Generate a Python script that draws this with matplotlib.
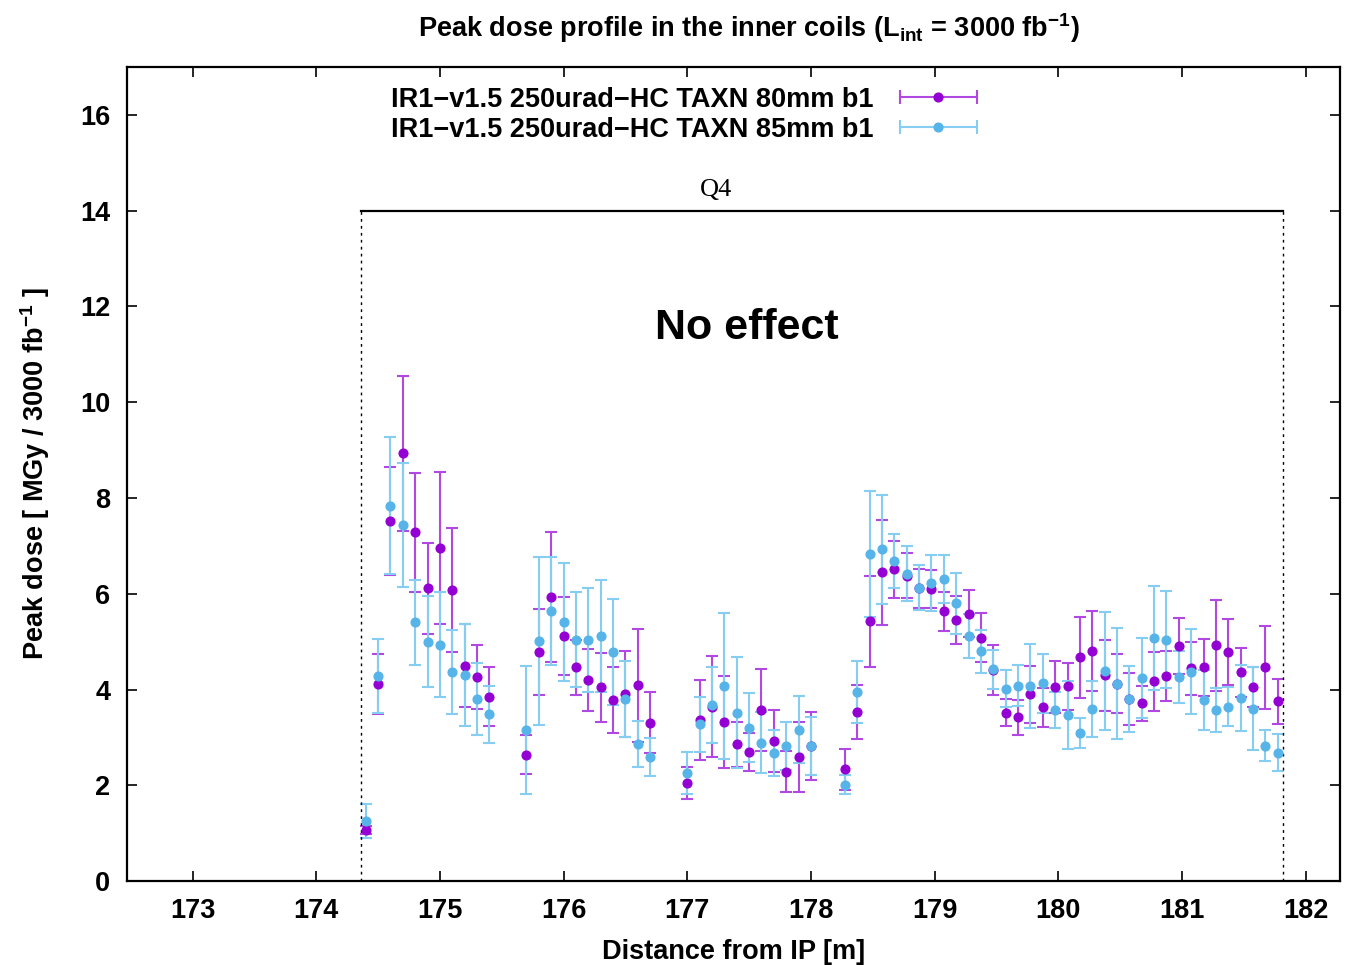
import numpy as np
import matplotlib
matplotlib.use('Agg')
import matplotlib.pyplot as plt
from matplotlib.lines import Line2D
from matplotlib.legend_handler import HandlerLine2D

plt.rcParams['font.family'] = ['Liberation Sans', 'DejaVu Sans']
plt.rcParams['font.weight'] = 'bold'
plt.rcParams['mathtext.fontset'] = 'custom'
plt.rcParams['mathtext.bf'] = 'Liberation Sans:bold'
plt.rcParams['mathtext.rm'] = 'Liberation Sans:bold'
plt.rcParams['mathtext.default'] = 'bf'

# Bin positions along the beam line [m]
x_pos = np.concatenate([
    np.arange(174.4, 175.45, 0.1),
    np.arange(175.7, 176.75, 0.1),
    np.arange(177.0, 178.05, 0.1),
    np.arange(178.275, 181.8, 0.1),
])

# TAXN 80mm b1
dose_80 = [1.06, 4.11, 7.52, 8.93, 7.28, 6.12, 6.95, 6.08, 4.50, 4.26, 3.85,
           2.64, 4.78, 5.93, 5.12, 4.46, 4.20, 4.05, 3.78, 3.91, 4.09, 3.31,
           2.05, 3.36, 3.64, 3.32, 2.86, 2.69, 3.57, 2.93, 2.28, 2.59, 2.82,
           2.33, 3.53, 5.43, 6.45, 6.51, 6.38, 6.11, 6.10, 5.63, 5.46, 5.58, 5.08,
           4.41, 3.52, 3.42, 3.90, 3.63, 4.05, 4.07, 4.67, 4.81, 4.30, 4.12, 3.80,
           3.71, 4.17, 4.29, 4.91, 4.44, 4.46, 4.92, 4.78, 4.36, 4.05, 4.46, 3.76]
err_80 = [0.08, 0.63, 1.12, 1.62, 1.24, 0.95, 1.59, 1.29, 0.86, 0.67, 0.62,
          0.40, 0.90, 1.36, 0.82, 0.58, 0.64, 0.72, 0.68, 0.90, 1.18, 0.64,
          0.33, 0.83, 1.05, 0.96, 0.47, 0.40, 0.85, 0.65, 0.43, 0.73, 0.72,
          0.43, 0.56, 0.95, 1.10, 0.60, 0.47, 0.40, 0.40, 0.40, 0.50, 0.49, 0.51,
          0.52, 0.29, 0.37, 0.60, 0.41, 0.55, 0.49, 0.85, 0.84, 0.74, 0.62, 0.55,
          0.36, 0.61, 0.52, 0.59, 0.56, 0.59, 0.96, 0.69, 0.51, 0.42, 0.87, 0.47]

# TAXN 85mm b1
dose_85 = [1.25, 4.28, 7.84, 7.44, 5.40, 5.00, 4.94, 4.37, 4.30, 3.80, 3.48,
           3.16, 5.01, 5.64, 5.41, 5.04, 5.03, 5.12, 4.79, 3.80, 2.86, 2.59,
           2.25, 3.27, 3.68, 4.07, 3.52, 3.20, 2.89, 2.67, 2.82, 3.16, 2.82,
           2.01, 3.95, 6.83, 6.93, 6.68, 6.42, 6.13, 6.23, 6.30, 5.80, 5.12, 4.80,
           4.42, 4.02, 4.08, 4.07, 4.13, 3.57, 3.46, 3.09, 3.59, 4.39, 4.12, 3.80,
           4.24, 5.07, 5.04, 4.26, 4.37, 3.78, 3.57, 3.64, 3.83, 3.60, 2.83, 2.68]
err_85 = [0.35, 0.78, 1.43, 1.29, 0.88, 0.95, 1.10, 0.88, 1.06, 0.75, 0.59,
          1.34, 1.76, 1.13, 1.23, 0.99, 1.08, 1.17, 1.11, 0.80, 0.48, 0.39,
          0.44, 0.57, 0.80, 1.52, 1.15, 0.72, 0.64, 0.48, 0.51, 0.70, 0.60,
          0.20, 0.65, 1.31, 1.14, 0.56, 0.58, 0.47, 0.58, 0.50, 0.63, 0.46, 0.45,
          0.40, 0.39, 0.43, 0.88, 0.62, 0.37, 0.71, 0.32, 0.59, 1.23, 1.16, 0.69,
          0.83, 1.09, 1.01, 0.54, 0.89, 0.63, 0.46, 0.41, 0.69, 0.86, 0.33, 0.39]

labels = ['IR1\u2212v1.5 250urad\u2212HC TAXN 80mm b1',
          'IR1\u2212v1.5 250urad\u2212HC TAXN 85mm b1']
colors = ['#9400d3', '#56b4e9']
bar_colors = ['#b248e2', '#86cdf2']

q4_start, q4_end = 174.36, 181.82

fs = 19.5

fig = plt.figure(figsize=(13.51, 9.65), dpi=100)
ax = fig.add_axes([0.094, 0.087, 0.898, 0.8435])

series = [(dose_80, err_80), (dose_85, err_85)]
for (vals, errs), c, bc in zip(series, colors, bar_colors):
    ax.errorbar(x_pos, vals, yerr=errs, fmt='o', color=c, mec=c, mfc=c,
                ecolor=bc, elinewidth=1.5, capsize=4.3, capthick=1.5,
                markersize=6.3)

# Q4 magnet extent
ax.plot([q4_start, q4_end], [14, 14], color='black', lw=1.6)
ax.plot([q4_start, q4_start], [0, 14], color='black', lw=1.0, ls=(0, (2, 3)))
ax.plot([q4_end, q4_end], [0, 14], color='black', lw=1.0, ls=(0, (2, 3)))
ax.text(177.23, 14.2, 'Q4', family=['Liberation Serif', 'DejaVu Serif'],
        fontweight='normal', fontsize=19, ha='center', va='bottom')
ax.text(177.48, 11.55, 'No effect', fontsize=31, fontweight='bold',
        ha='center', va='center')

ax.set_xlim(172.47, 182.28)
ax.set_ylim(0, 17)
ax.set_xticks(np.arange(173, 183, 1))
ax.set_yticks(np.arange(0, 17, 2))
ax.tick_params(direction='in', length=7, width=1.2, top=True, right=True,
               labelsize=fs)
ax.tick_params(axis='x', pad=12)
ax.tick_params(axis='y', pad=12)
for s in ax.spines.values():
    s.set_linewidth(1.6)

ax.set_xlabel('Distance from IP [m]', fontsize=fs, fontweight='bold', labelpad=11)
ax.set_ylabel(r'Peak dose [ MGy / 3000 fb$^{-1}$ ]', fontsize=fs,
              fontweight='bold', labelpad=20)
fig.text(0.5545, 0.971, r'Peak dose profile in the inner coils (L$_{int}$ = 3000 fb$^{-1}$)',
         fontsize=fs, fontweight='bold', ha='center', va='center')

# gnuplot-style legend keys: horizontal bar with caps and a dot
handles = []
hmap = {}
for c, bc in zip(colors, bar_colors):
    cap = Line2D([], [], color=bc, lw=1.5, marker='|', markersize=10,
                 markeredgewidth=1.5)
    dot = Line2D([], [], color=c, ls='none', marker='o', markersize=6.3)
    hmap[cap] = HandlerLine2D(numpoints=2)
    handles.append((cap, dot))

ax.legend(handles, labels, handler_map=hmap, loc='upper right',
          bbox_to_anchor=(0.7072, 0.976), frameon=False, markerfirst=False,
          fontsize=fs, handlelength=3.45, handletextpad=0.65, labelspacing=0.15,
          borderpad=0, borderaxespad=0)

fig.savefig('out.png', dpi=100)
